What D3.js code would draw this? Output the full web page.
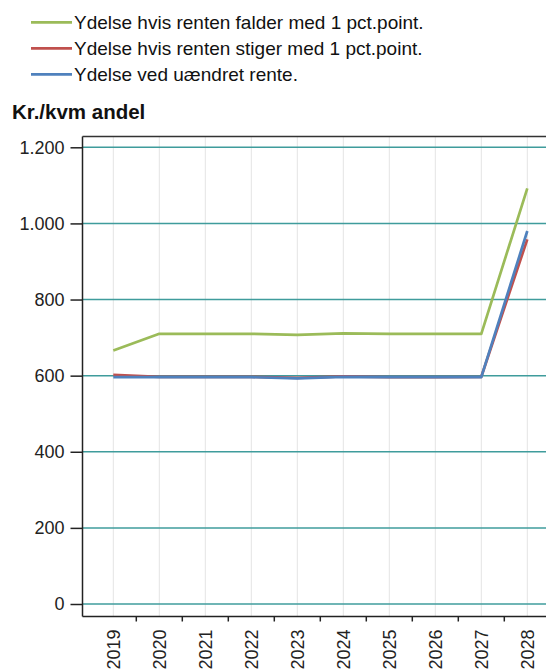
<!DOCTYPE html>
<html>
<head>
<meta charset="utf-8">
<script src="https://cdn.jsdelivr.net/npm/d3@7"></script>
<style>
  body { margin: 0; background: #fff; }
  svg { display: block; font-family: "Liberation Sans", Arial, sans-serif; }
</style>
</head>
<body>
<svg id="chart" width="546" height="672"></svg>
<script>
// Data
const years = [2019, 2020, 2021, 2022, 2023, 2024, 2025, 2026, 2027, 2028];
const falder = [666, 710, 710, 710, 707, 711, 710, 710, 710, 1092];
const stiger = [602, 597, 597, 597, 594, 598, 596, 596, 597, 958];
const uaendret = [596, 596, 596, 596, 593, 597, 596, 596, 596, 980];
const yTicks = [0, 200, 400, 600, 800, 1000, 1200];

const seriesNames = [
    "Ydelse hvis renten falder med 1 pct.point.",
    "Ydelse hvis renten stiger med 1 pct.point.",
    "Ydelse ved uændret rente."
];
const seriesColors = ["#9bbb59", "#c0504d", "#4f81bd"];
const seriesValues = [falder, stiger, uaendret];

const svg = d3.select("#chart");

// plot frame
const plotLeft = 82.5, plotRight = 560, plotTop = 136.5, plotBottom = 616.5;

const x = d3.scaleBand().domain(years).range([90.3, 550.3]);
const y = d3.scaleLinear().domain([0, 1200]).range([604, 147.3]);
const cx = d => x(d) + x.bandwidth() / 2;

// vertical grid (light gray) at each year
svg.append("g")
    .selectAll("line")
    .data(years)
    .enter().append("line")
    .attr("x1", d => cx(d)).attr("x2", d => cx(d))
    .attr("y1", plotTop).attr("y2", plotBottom)
    .attr("stroke", "#e4e4e4")
    .attr("stroke-width", 1);

// horizontal grid (teal)
svg.append("g")
    .selectAll("line")
    .data(yTicks)
    .enter().append("line")
    .attr("x1", plotLeft).attr("x2", plotRight)
    .attr("y1", d => y(d)).attr("y2", d => y(d))
    .attr("stroke", "#3f9c9c")
    .attr("stroke-width", 1.5);

// y axis
const fmt = d => d3.format(",")(d).replace(/,/g, ".");
const yAxis = svg.append("g")
    .attr("transform", `translate(${plotLeft},0)`)
    .call(d3.axisLeft(y).tickValues(yTicks).tickFormat(fmt).tickSize(12).tickPadding(6));
yAxis.select(".domain").remove();
yAxis.selectAll(".tick line").attr("stroke", "#222").attr("stroke-width", 1.5);
yAxis.selectAll(".tick text")
    .attr("font-size", 18)
    .attr("fill", "#222")
    .attr("font-family", "Liberation Sans, Arial, sans-serif");

// frame lines: left, top, bottom
svg.append("line")
    .attr("x1", plotLeft).attr("x2", plotLeft).attr("y1", plotTop).attr("y2", plotBottom)
    .attr("stroke", "#222").attr("stroke-width", 1.5);
svg.append("line")
    .attr("x1", plotLeft).attr("x2", plotRight).attr("y1", plotTop).attr("y2", plotTop)
    .attr("stroke", "#333").attr("stroke-width", 1.5);
svg.append("line")
    .attr("x1", plotLeft).attr("x2", plotRight).attr("y1", plotBottom).attr("y2", plotBottom)
    .attr("stroke", "#222").attr("stroke-width", 1.5);

// x ticks between years
svg.append("g")
    .selectAll("line")
    .data(years.slice(1))
    .enter().append("line")
    .attr("x1", d => x(d)).attr("x2", d => x(d))
    .attr("y1", plotBottom).attr("y2", plotBottom + 5)
    .attr("stroke", "#222").attr("stroke-width", 1.5);

// x labels, rotated
svg.append("g")
    .selectAll("text")
    .data(years)
    .enter().append("text")
    .attr("transform", d => `translate(${cx(d) + 6.5},${plotBottom + 13}) rotate(-90)`)
    .attr("text-anchor", "end")
    .attr("font-size", 18)
    .attr("fill", "#222")
    .text(d => d);

// lines
const line = d3.line()
    .x((d, i) => cx(years[i]))
    .y(d => y(d));

svg.append("g")
    .selectAll("path")
    .data(seriesValues)
    .enter().append("path")
    .attr("d", d => line(d))
    .attr("fill", "none")
    .attr("stroke", (d, i) => seriesColors[i])
    .attr("stroke-width", 2.7)
    .attr("stroke-linejoin", "round");

// legend
const legend = svg.append("g")
    .selectAll("g")
    .data(seriesNames)
    .enter().append("g")
    .attr("transform", (d, i) => `translate(0,${22.3 + i * 26})`);

legend.append("line")
    .attr("x1", 31).attr("x2", 72)
    .attr("stroke", (d, i) => seriesColors[i])
    .attr("stroke-width", 2.7);

legend.append("text")
    .attr("x", 74)
    .attr("dy", "0.35em")
    .attr("font-size", 19)
    .attr("fill", "#111")
    .text(d => d);

// axis title
svg.append("text")
    .attr("x", 12)
    .attr("y", 119)
    .attr("font-size", 20.5)
    .attr("font-weight", "bold")
    .attr("fill", "#111")
    .text("Kr./kvm andel");
</script>
</body>
</html>
